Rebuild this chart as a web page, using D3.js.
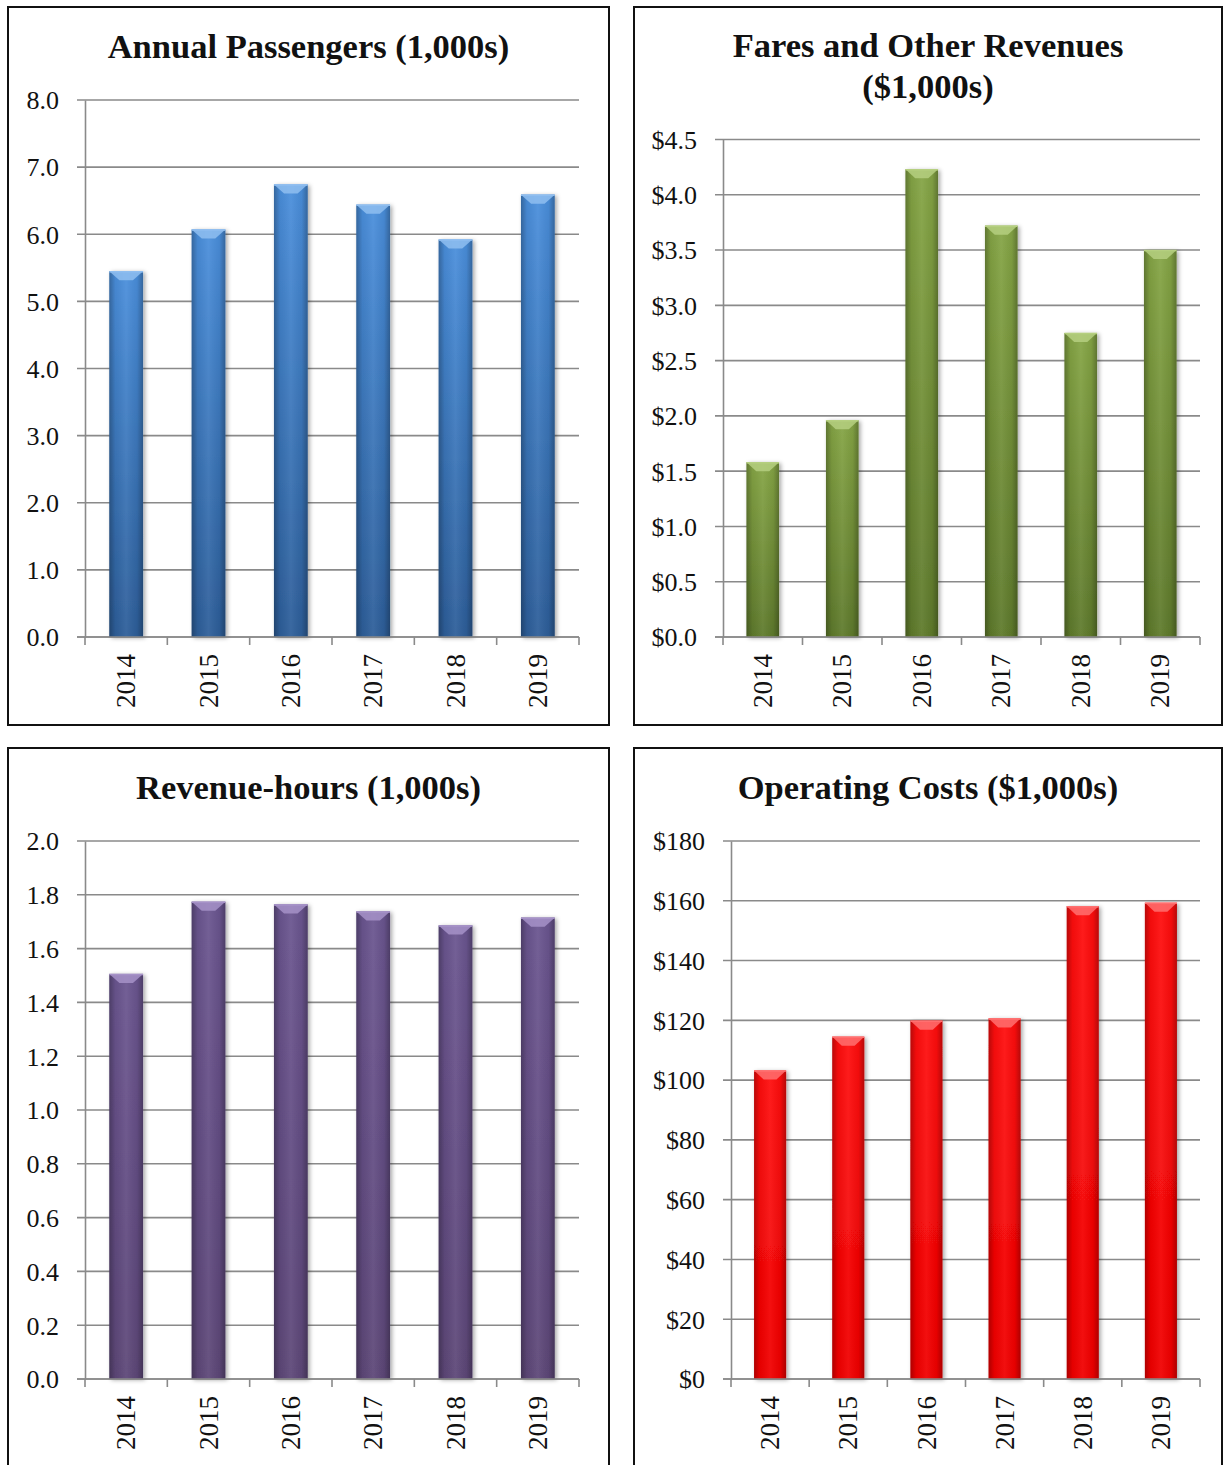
<!DOCTYPE html>
<html>
<head>
<meta charset="utf-8">
<script src="https://cdn.jsdelivr.net/npm/d3@7"></script>
<style>
  body { margin: 0; background: #fff; }
  svg { display: block; }
  text { font-family: "Liberation Serif", "Times New Roman", serif; fill: #111; }
</style>
</head>
<body>
<div id="chart"></div>
<script>
// data
const years = ["2014", "2015", "2016", "2017", "2018", "2019"];
const passengers = [5.45, 6.07, 6.74, 6.44, 5.92, 6.59];
const fares = [1.58, 1.96, 4.23, 3.72, 2.75, 3.50];
const revHours = [1.506, 1.774, 1.764, 1.738, 1.686, 1.715];
const opCosts = [103.2, 114.5, 119.9, 120.6, 158.2, 159.3];

const passengerTicks = [0, 1, 2, 3, 4, 5, 6, 7, 8];
const fareTicks = [0, 0.5, 1, 1.5, 2, 2.5, 3, 3.5, 4, 4.5];
const hourTicks = [0, 0.2, 0.4, 0.6, 0.8, 1.0, 1.2, 1.4, 1.6, 1.8, 2.0];
const costTicks = [0, 20, 40, 60, 80, 100, 120, 140, 160, 180];

const W = 1231, H = 1465;

const svg = d3.select("#chart").append("svg")
    .attr("width", W)
    .attr("height", H);

const defs = svg.append("defs");

// soft shadow under the bars
let shadow = defs.append("filter").attr("id", "shadow")
    .attr("x", "-30%").attr("y", "-10%").attr("width", "160%").attr("height", "120%");
shadow.append("feDropShadow")
    .attr("dx", 2).attr("dy", 1).attr("stdDeviation", 2)
    .attr("flood-color", "#000").attr("flood-opacity", 0.35);

// edge shading, same for all bars
let edge = defs.append("linearGradient").attr("id", "edge")
    .attr("x1", 0).attr("x2", 1).attr("y1", 0).attr("y2", 0);
edge.append("stop").attr("offset", "0%").attr("stop-color", "#000").attr("stop-opacity", 0.28);
edge.append("stop").attr("offset", "18%").attr("stop-color", "#000").attr("stop-opacity", 0.05);
edge.append("stop").attr("offset", "50%").attr("stop-color", "#fff").attr("stop-opacity", 0.06);
edge.append("stop").attr("offset", "82%").attr("stop-color", "#000").attr("stop-opacity", 0.05);
edge.append("stop").attr("offset", "100%").attr("stop-color", "#000").attr("stop-opacity", 0.28);

const panels = [
    {id: "pass", title: ["Annual Passengers (1,000s)"], titleY: [58],
     box: [8, 7, 609, 725], plot: [85, 100, 579, 637],
     values: passengers, ticks: passengerTicks, fmt: d3.format(".1f"),
     top: "#4a8fdc", bottom: "#2d5e99", bevel: "#8fbef0"},
    {id: "fare", title: ["Fares and Other Revenues", "($1,000s)"], titleY: [57, 98],
     box: [634, 7, 1222, 725], plot: [723, 139.5, 1200, 637],
     values: fares, ticks: fareTicks, fmt: d => "$" + d3.format(".1f")(d),
     top: "#85a545", bottom: "#5f7a2c", bevel: "#b5cf80"},
    {id: "hours", title: ["Revenue-hours (1,000s)"], titleY: [799],
     box: [8, 748, 609, 1475], plot: [85, 841, 579, 1379],
     values: revHours, ticks: hourTicks, fmt: d3.format(".1f"),
     top: "#6b5590", bottom: "#5d4778", bevel: "#a692c8"},
    {id: "cost", title: ["Operating Costs ($1,000s)"], titleY: [799],
     box: [634, 748, 1222, 1475], plot: [731, 841, 1200, 1379],
     values: opCosts, ticks: costTicks, fmt: d => "$" + d3.format("d")(d),
     top: "#ff1010", bottom: "#f00000", bevel: "#ff7070"}
];

panels.forEach(function(p) {
    let g = svg.append("g").attr("class", "panel-" + p.id);

    // outer frame
    g.append("rect")
        .attr("x", p.box[0]).attr("y", p.box[1])
        .attr("width", p.box[2] - p.box[0]).attr("height", p.box[3] - p.box[1])
        .attr("fill", "#fff").attr("stroke", "#111").attr("stroke-width", 2);

    // title
    let cx = (p.box[0] + p.box[2]) / 2;
    p.title.forEach(function(t, i) {
        g.append("text")
            .attr("x", cx).attr("y", p.titleY[i])
            .attr("text-anchor", "middle")
            .style("font-size", "34.5px").style("font-weight", "bold")
            .text(t);
    });

    let left = p.plot[0], top = p.plot[1], right = p.plot[2], bottom = p.plot[3];

    let x = d3.scaleBand().domain(years).range([left, right]).paddingInner(0.59).paddingOuter(0.295);
    let xCat = d3.scaleBand().domain(years).range([left, right]).padding(0);
    let y = d3.scaleLinear().domain([0, d3.max(p.ticks)]).range([bottom, top]);

    // gridlines with the outer tick stub
    g.append("g").selectAll("line").data(p.ticks).join("line")
        .attr("x1", left - 8).attr("x2", right)
        .attr("y1", d => y(d)).attr("y2", d => y(d))
        .attr("stroke", "#8a8a8a").attr("stroke-width", 1.6);

    // y axis
    let yAxis = g.append("g")
        .attr("transform", `translate(${left},0)`)
        .call(d3.axisLeft(y).tickValues(p.ticks).tickFormat(p.fmt).tickSize(0).tickPadding(26));
    yAxis.select(".domain").attr("stroke", "#8a8a8a").attr("stroke-width", 1.6);
    yAxis.selectAll("text").style("font-size", "26px").attr("fill", "#111").attr("dy", "0.34em");

    // bars
    let col = p.id + "-col";
    let lg = defs.append("linearGradient").attr("id", col)
        .attr("x1", 0).attr("x2", 0).attr("y1", 0).attr("y2", 1);
    lg.append("stop").attr("offset", "0%").attr("stop-color", p.top);
    lg.append("stop").attr("offset", "100%").attr("stop-color", p.bottom);

    let bars = g.append("g").selectAll("g").data(years).join("g");
    bars.append("rect")
        .attr("x", d => x(d)).attr("width", x.bandwidth())
        .attr("y", (d, i) => y(p.values[i]))
        .attr("height", (d, i) => y(0) - y(p.values[i]))
        .attr("fill", "url(#" + col + ")")
        .attr("filter", "url(#shadow)");
    bars.append("rect")
        .attr("x", d => x(d)).attr("width", x.bandwidth())
        .attr("y", (d, i) => y(p.values[i]))
        .attr("height", (d, i) => y(0) - y(p.values[i]))
        .attr("fill", "url(#edge)");
    // top bevel
    bars.append("path")
        .attr("d", function(d, i) {
            let x0 = x(d), x1 = x(d) + x.bandwidth(), yt = y(p.values[i]);
            let bw = x.bandwidth(), inset = bw * 0.3, h = 9;
            return `M${x0},${yt}L${x1},${yt}L${x1 - inset},${yt + h}L${x0 + inset},${yt + h}Z`;
        })
        .attr("fill", p.bevel).attr("opacity", 0.85);
    bars.append("line")
        .attr("x1", d => x(d)).attr("x2", d => x(d) + x.bandwidth())
        .attr("y1", (d, i) => y(p.values[i]) + 0.5).attr("y2", (d, i) => y(p.values[i]) + 0.5)
        .attr("stroke", p.bevel).attr("stroke-width", 1.5);

    // x axis base and category boundary ticks
    let cuts = years.map(d => xCat(d)).concat([right]);
    g.append("g").selectAll("line").data(cuts).join("line")
        .attr("x1", d => d).attr("x2", d => d)
        .attr("y1", bottom).attr("y2", bottom + 8)
        .attr("stroke", "#8a8a8a").attr("stroke-width", 1.6);
    g.append("line")
        .attr("x1", left - 8).attr("x2", right)
        .attr("y1", bottom).attr("y2", bottom)
        .attr("stroke", "#8a8a8a").attr("stroke-width", 1.6);

    // rotated year labels
    g.append("g").selectAll("text").data(years).join("text")
        .attr("transform", d => `translate(${x(d) + x.bandwidth() / 2},${bottom + 17}) rotate(-90)`)
        .attr("text-anchor", "end")
        .attr("dy", "0.34em")
        .style("font-size", "27px")
        .text(d => d);
});
</script>
</body>
</html>
